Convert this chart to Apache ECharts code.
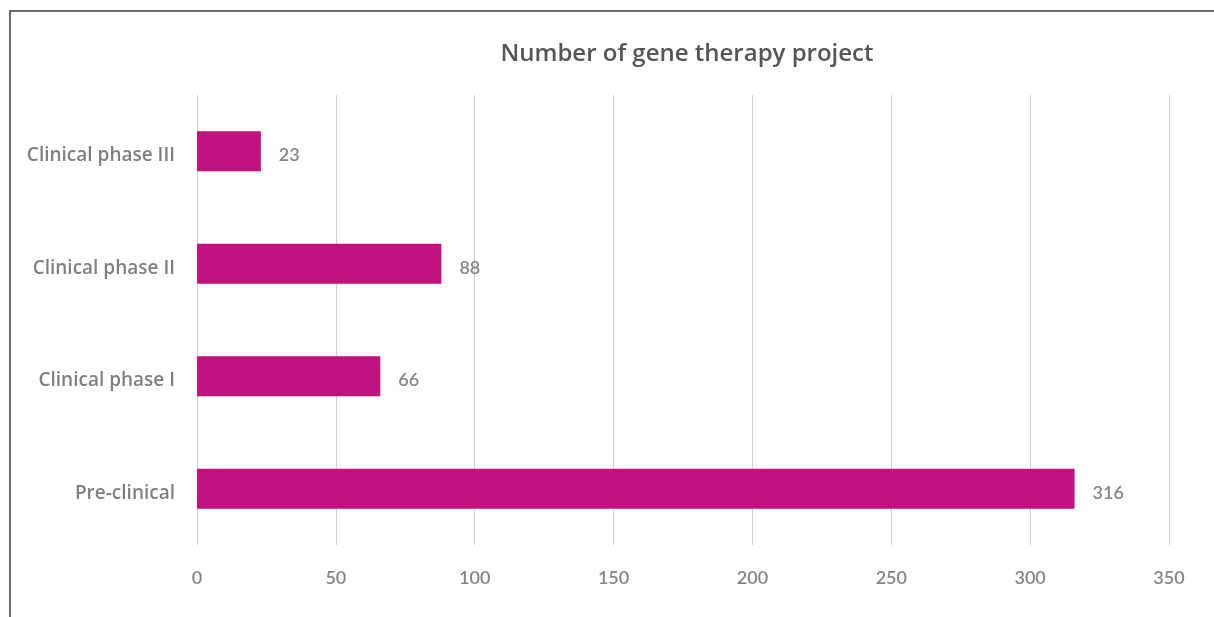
<!DOCTYPE html>
<html>
<head>
<meta charset="utf-8">
<script src="https://cdn.jsdelivr.net/npm/echarts@6/dist/echarts.min.js"></script>
<style>
html,body{margin:0;padding:0;background:#fff;}
#chart{width:1214px;height:617px;}
</style>
</head>
<body>
<div id="chart"></div>
<script>
const categories = ['Pre-clinical', 'Clinical phase I', 'Clinical phase II', 'Clinical phase III'];
const values = [316, 66, 88, 23];
const xTicks = [0, 50, 100, 150, 200, 250, 300, 350];

const chart = echarts.init(document.getElementById('chart'));
chart.setOption({
  animation: false,
  backgroundColor: '#ffffff',
  title: {
    text: 'Number of gene therapy project',
    left: 682,
    top: 37,
    textAlign: 'center',
    textStyle: { fontFamily: 'Open Sans', fontSize: 24, fontWeight: 600, color: '#555555' }
  },
  graphic: [{
    type: 'polyline',
    shape: { points: [[10, 617], [10, 11], [1214, 11]] },
    style: { stroke: '#3a3a3a', lineWidth: 1.5, fill: null },
    silent: true
  }],
  grid: { left: 197, right: 45, top: 95, bottom: 72 },
  xAxis: {
    type: 'value',
    min: xTicks[0],
    max: xTicks[xTicks.length - 1],
    interval: 50,
    axisLine: { show: false },
    axisTick: { show: false },
    splitLine: { lineStyle: { color: '#d0d0d0', width: 1 } },
    axisLabel: { margin: 24, fontFamily: 'Lato', fontSize: 18, fontWeight: 600, color: '#858585' }
  },
  yAxis: {
    type: 'category',
    data: categories,
    axisLine: { show: false },
    axisTick: { show: false },
    axisLabel: {
      margin: 22,
      formatter: function (v) { return '{a|' + v + '}'; },
      rich: {
        a: { fontFamily: 'Open Sans', fontSize: 19, fontWeight: 600, color: '#7f7f7f', padding: [9, 0, 0, 0] }
      }
    }
  },
  series: [{
    type: 'bar',
    data: values,
    barWidth: 40,
    itemStyle: { color: '#C0117E' },
    label: {
      show: true,
      position: 'right',
      distance: 18,
      offset: [0, 4],
      fontFamily: 'Lato',
      fontSize: 18,
      fontWeight: 600,
      color: '#858585'
    }
  }]
});
</script>
</body>
</html>
